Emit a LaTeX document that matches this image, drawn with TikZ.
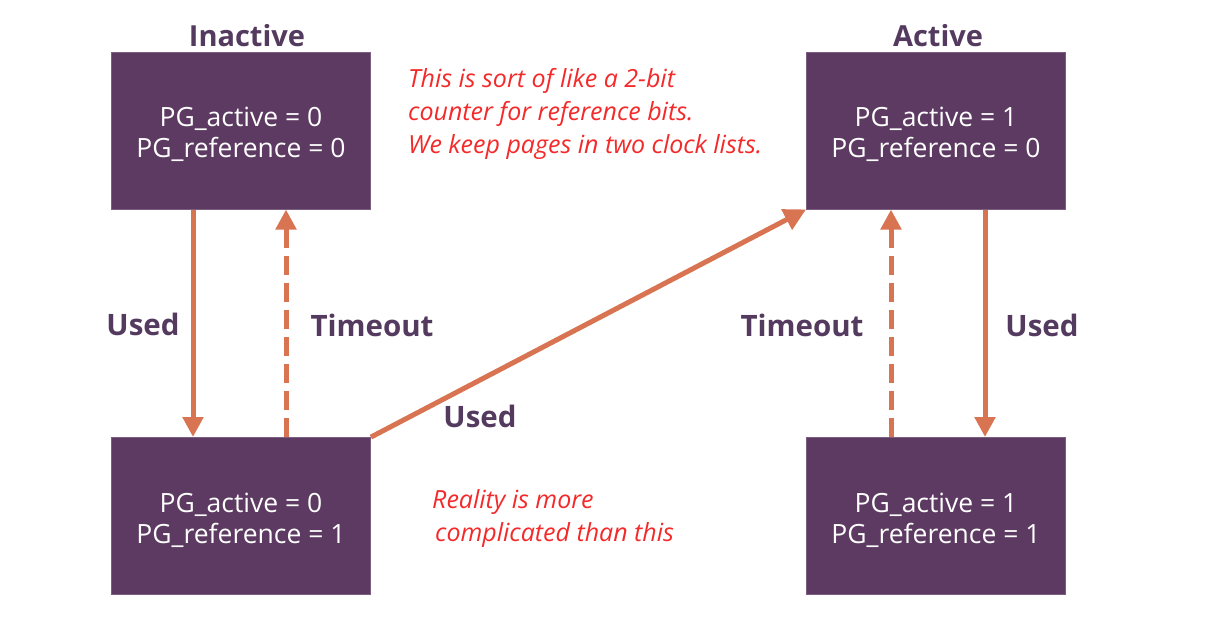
\documentclass[tikz,border=0pt]{standalone}
\usepackage{fontspec}
\setmainfont{Open Sans}
\newfontfamily\handfont{Open Sans}
\usetikzlibrary{arrows.meta}
\definecolor{boxpurple}{HTML}{5D3A61}
\definecolor{boxedge}{HTML}{7B5E80}
\definecolor{arroworange}{HTML}{D87452}
\definecolor{labelpurple}{HTML}{533A5E}
\definecolor{notered}{HTML}{F42A2A}
\begin{document}
\begin{tikzpicture}[x=1pt,y=-1pt,
  statebox/.style={draw=boxedge, line width=0.8pt, fill=boxpurple,
    minimum width=259pt, minimum height=157pt, inner sep=0pt},
  boxtext/.style={text=white, inner sep=0pt, align=center,
    font=\fontsize{26.5}{31}\selectfont},
  title/.style={text=labelpurple, font=\fontsize{29}{30}\selectfont\bfseries},
  edgelabel/.style={text=labelpurple, font=\fontsize{29.5}{30}\selectfont\bfseries},
  note/.style={text=notered, align=left, anchor=north west, inner sep=0pt,
    font=\handfont\itshape\fontsize{25}{33}\selectfont},
  solidarrow/.style={draw=arroworange, line width=5pt,
    -{Triangle[length=20pt,width=20pt]}},
  dashedarrow/.style={solidarrow, dash pattern=on 19pt off 8pt},
]
\useasboundingbox (0,0) rectangle (1207,616);

\node[statebox] (ia) at (241,130.5) {};
\node[statebox] (ib) at (241,516) {};
\node[statebox] (aa) at (936,130.5) {};
\node[statebox] (ab) at (936,516) {};
\node[boxtext] (iatext) at (241,134.5) {PG\_active = 0\\PG\_reference = 0};
\node[boxtext] (ibtext) at (241,520) {PG\_active = 0\\PG\_reference = 1};
\node[boxtext] (aatext) at (936,134.5) {PG\_active = 1\\PG\_reference = 0};
\node[boxtext] (abtext) at (936,520) {PG\_active = 1\\PG\_reference = 1};

\node[title] (tInactive) at (247,36) {Inactive};
\node[title] (tActive) at (938,36) {Active};

\coordinate (u1a) at (193,209.5);
\coordinate (u1b) at (193,437);
\coordinate (t1a) at (286,437);
\coordinate (t1b) at (286,209.5);
\coordinate (t2a) at (891,437);
\coordinate (t2b) at (891,209.5);
\coordinate (u2a) at (985,209.5);
\coordinate (u2b) at (985,437);

\draw[solidarrow] (u1a) -- (u1b);
\draw[dashedarrow] (t1a) -- (t1b);
\draw[dashedarrow] (t2a) -- (t2b);
\draw[solidarrow] (u2a) -- (u2b);
\draw[draw=arroworange, line width=5pt, -{Triangle[length=22pt,width=22pt]}]
  (ib.north east) -- (aa.south west);

\node[edgelabel] (lu1) at (143,324) {Used};
\node[edgelabel] (lt1) at (372,325) {Timeout};
\node[edgelabel] (lu3) at (480,416) {Used};
\node[edgelabel] (lt2) at (802,325) {Timeout};
\node[edgelabel] (lu2) at (1042,325) {Used};

\node[note] (n1) at (408,68) {This is sort of like a 2-bit\\counter for reference bits.\\We keep pages in two clock lists.};
\node[note] (n2) at (432,489) {Reality is more\\\hspace*{3pt}complicated than this};
\end{tikzpicture}
\end{document}
